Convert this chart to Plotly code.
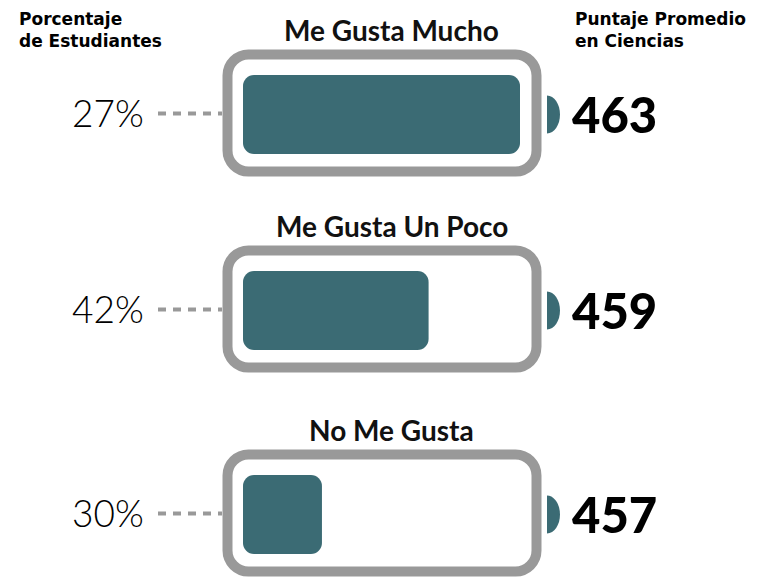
import plotly.graph_objects as go

# ---- data ----
categories = ["Me Gusta Mucho", "Me Gusta Un Poco", "No Me Gusta"]
pct_students = [27, 42, 30]
science_scores = [463, 459, 457]
fill_levels = [1.0, 0.67, 0.285]   # battery charge shown for each category

# ---- layout constants (pixels, in window coordinates) ----
W, H = 782, 578
PAD = 8                            # page body margin
row_y = [114.5, 310.5, 514.5]      # centre of each battery fill
FILL_X0, FILL_LEN, FILL_H = 243, 277, 79
TEAL = "#3b6b74"
GRAY = "#999999"


def rrect(x0, y0, x1, y1, r):
    k = 0.5523 * r
    return (f"M {x0+r},{y0} L {x1-r},{y0} C {x1-r+k},{y0} {x1},{y0+r-k} {x1},{y0+r} "
            f"L {x1},{y1-r} C {x1},{y1-r+k} {x1-r+k},{y1} {x1-r},{y1} "
            f"L {x0+r},{y1} C {x0+r-k},{y1} {x0},{y1-r+k} {x0},{y1-r} "
            f"L {x0},{y0+r} C {x0},{y0+r-k} {x0+r-k},{y0} {x0+r},{y0} Z")


def half_ellipse(cx, cy, rx, ry):
    k = 0.5523
    return (f"M {cx},{cy-ry} C {cx+k*rx},{cy-ry} {cx+rx},{cy-k*ry} {cx+rx},{cy} "
            f"C {cx+rx},{cy+k*ry} {cx+k*rx},{cy+ry} {cx},{cy+ry} Z")


fig = go.Figure()
fig.add_trace(go.Bar(
    orientation="h",
    y=row_y,
    x=[lv * FILL_LEN for lv in fill_levels],
    base=FILL_X0,
    width=FILL_H,
    marker=dict(color=TEAL, cornerradius=11, line=dict(width=0)),
    hoverinfo="skip",
    showlegend=False,
))

shapes = []
annotations = []
for i, cy in enumerate(row_y):
    oc = cy - 1.5
    shapes.append(dict(type="path", path=rrect(227.5, oc - 58.5, 536.5, oc + 58.5, 21),
                       line=dict(color=GRAY, width=10), fillcolor="rgba(0,0,0,0)",
                       xref="x", yref="y", layer="below"))
    shapes.append(dict(type="path", path=half_ellipse(547, cy, 13, 19),
                       line=dict(width=0), fillcolor=TEAL, xref="x", yref="y"))
    shapes.append(dict(type="line", x0=158, x1=222, y0=cy - 1, y1=cy - 1,
                       line=dict(color=GRAY, width=4, dash="8px,7px"), xref="x", yref="y"))
    annotations.append(dict(x=391.5, y=oc - 63.5 - 20, text=categories[i], showarrow=False,
                            xanchor="center", yanchor="middle",
                            font=dict(family="Lato", size=28, color="#111111", weight=700)))
    annotations.append(dict(x=146, y=cy - 2, text=f"{pct_students[i]}%", showarrow=False,
                            xanchor="right", yanchor="middle",
                            font=dict(family="Lato", size=37, color="#000000", weight=300)))
    annotations.append(dict(x=570, y=cy - 1, text=str(science_scores[i]), showarrow=False,
                            xanchor="left", yanchor="middle",
                            font=dict(family="Lato", size=49, color="#000000", weight=900)))

hdr_font = dict(family="DejaVu Sans", size=17, color="#000000", weight=700)
for txt, x in [("Porcentaje<br>de Estudiantes", 17), ("Puntaje Promedio<br>en Ciencias", 573)]:
    annotations.append(dict(x=x, y=30, text=txt, showarrow=False, xanchor="left",
                            yanchor="middle", align="left", font=hdr_font))

fig.update_layout(
    width=W - PAD, height=H - PAD,
    margin=dict(l=0, r=0, t=0, b=0),
    paper_bgcolor="white", plot_bgcolor="white",
    xaxis=dict(range=[PAD, W], visible=False, fixedrange=True),
    yaxis=dict(range=[H, PAD], visible=False, fixedrange=True),
    shapes=shapes,
    annotations=annotations,
    showlegend=False,
)

fig.write_html("out.html")
